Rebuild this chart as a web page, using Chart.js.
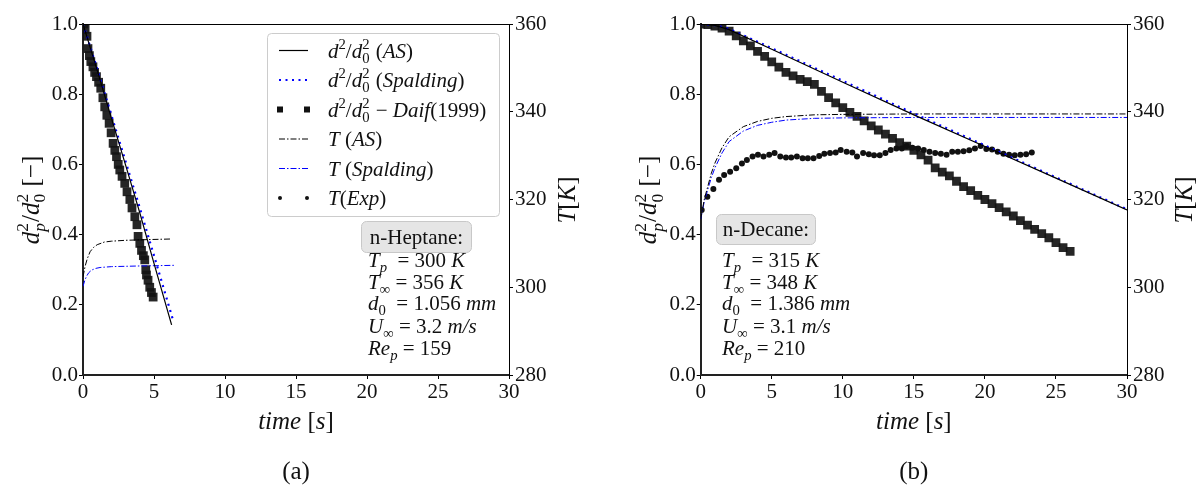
<!DOCTYPE html>
<html>
<head>
<meta charset="utf-8">
<script src="https://cdn.jsdelivr.net/npm/chart.js@4.4.1/dist/chart.umd.min.js"></script>
<style>
html, body { margin: 0; padding: 0; background: #fff; }
#wrap { position: relative; width: 1196px; height: 494px; }
canvas { position: absolute; top: 0; }
</style>
</head>
<body>
<div id="wrap">
  <canvas id="panelA" width="598" height="494" style="left:0"></canvas>
  <canvas id="panelB" width="598" height="494" style="left:598px"></canvas>
</div>
<script>
// Tick labels shared by both panels.
const timeTicks = [0, 5, 10, 15, 20, 25, 30];
const dTicks = [0, 0.2, 0.4, 0.6, 0.8, 1.0];
const tempTicks = [280, 300, 320, 340, 360];

// (a) n-Heptane, d2/d02 model lines
const hepAsTime = [0, 1, 2, 3, 4, 5, 6.24];
const hepAs = [1.0, 0.868, 0.732, 0.598, 0.462, 0.318, 0.143];
const hepSpTime = [0, 1, 2, 3, 4, 5, 6.35];
const hepSp = [1.0, 0.872, 0.740, 0.608, 0.476, 0.340, 0.155];

// (a) Daif (1999) measurements
const hepDaifTime = [0.05, 0.15, 0.28, 0.35, 0.45, 0.55, 0.7, 0.82, 0.95, 1.1, 1.25, 1.4, 1.53, 1.68, 1.84, 1.98,
  2.12, 2.24, 2.36, 2.48, 2.59, 2.75, 2.94, 3.1, 3.3, 3.45, 3.65, 3.8, 3.88, 4.0, 4.12, 4.25, 4.35, 4.42, 4.47,
  4.58, 4.7, 4.82, 4.94];
const hepDaif = [1.0, 0.985, 0.965, 0.93, 0.91, 0.893, 0.878, 0.862, 0.85, 0.834, 0.817, 0.79, 0.764, 0.74, 0.717,
  0.69, 0.66, 0.64, 0.622, 0.6, 0.584, 0.566, 0.546, 0.522, 0.5, 0.476, 0.451, 0.428, 0.395, 0.375, 0.355, 0.34,
  0.328, 0.3, 0.285, 0.27, 0.25, 0.235, 0.222];

// (a) droplet temperature [K]
const hepTasTime = [0, 0.15, 0.3, 0.5, 0.75, 1, 1.5, 2, 3, 4, 5, 6.24];
const hepTas = [302.4, 304.8, 306.5, 308.1, 309.1, 309.7, 310.3, 310.5, 310.7, 310.8, 310.9, 311.0];
const hepTspTime = [0, 0.12, 0.25, 0.4, 0.6, 0.9, 1.2, 2, 4, 6.45];
const hepTsp = [300.2, 301.5, 302.5, 303.3, 303.9, 304.3, 304.5, 304.7, 304.85, 305.0];

// (b) n-Decane, d2/d02 model lines
const decLineTime = [0, 1, 2, 5, 10, 15, 20, 25, 30];
const decAs = [1.0, 0.996, 0.984, 0.928, 0.834, 0.741, 0.651, 0.561, 0.47];
const decSp = [1.0, 0.997, 0.986, 0.931, 0.838, 0.745, 0.654, 0.563, 0.472];

// (b) Daif (1999) measurements
const decDaifTime = [0, 0.5, 1, 1.5, 2, 2.5, 3, 3.5, 4, 4.5, 5, 5.5, 6, 6.5, 7, 7.5, 8, 8.5, 9, 9.5, 10, 10.5,
  11, 11.5, 12, 12.5, 13, 13.5, 14, 14.5, 15, 15.5, 16, 16.5, 17, 17.5, 18, 18.5, 19, 19.5, 20, 20.5, 21, 21.5,
  22, 22.5, 23, 23.5, 24, 24.5, 25, 25.5, 26];
const decDaif = [1.0, 0.998, 0.994, 0.988, 0.98, 0.966, 0.952, 0.938, 0.922, 0.908, 0.892, 0.877, 0.862, 0.852,
  0.842, 0.836, 0.828, 0.808, 0.79, 0.775, 0.762, 0.748, 0.737, 0.724, 0.71, 0.698, 0.686, 0.674, 0.662, 0.652,
  0.64, 0.627, 0.612, 0.59, 0.578, 0.567, 0.552, 0.537, 0.525, 0.512, 0.5, 0.488, 0.477, 0.465, 0.453, 0.44,
  0.427, 0.415, 0.403, 0.391, 0.377, 0.363, 0.352];

// (b) droplet temperature [K]
const decTempTime = [0, 0.25, 0.5, 0.75, 1, 1.5, 2, 3, 4, 5, 6, 8, 10, 15, 20, 30];
const decTas = [315.5, 320, 323, 326, 328.3, 331.8, 334.3, 336.6, 337.8, 338.5, 338.9, 339.3, 339.4, 339.5, 339.5, 339.5];
const decTsp = [315.5, 319.5, 322.3, 325, 327.2, 330.6, 333.2, 335.6, 336.9, 337.6, 338.1, 338.5, 338.6, 338.7, 338.7, 338.7];
const decExpTime = [0.07, 0.47, 0.89, 1.29, 1.65, 2.07, 2.5, 2.9, 3.25, 3.65, 4.03, 4.42, 4.82, 5.2, 5.6, 6.0,
  6.37, 6.77, 7.17, 7.54, 7.94, 8.34, 8.7, 9.1, 9.5, 9.85, 10.27, 10.67, 11.0, 11.43, 11.83, 12.2, 12.6, 13.0,
  13.37, 13.77, 14.15, 14.5, 14.9, 15.3, 15.7, 16.1, 16.5, 16.9, 17.3, 17.7, 18.1, 18.5, 18.9, 19.3, 19.7, 20.1,
  20.5, 20.9, 21.3, 21.7, 22.1, 22.5, 22.9, 23.3];
const decExp = [317.6, 320.6, 322.4, 324.5, 325.6, 326.3, 327.1, 328.2, 329.0, 329.8, 330.2, 329.8, 330.2, 330.6,
  329.8, 329.6, 329.6, 329.8, 329.4, 329.4, 329.4, 329.9, 330.4, 330.6, 330.7, 331.3, 330.9, 330.7, 329.8, 330.6,
  330.3, 330.1, 330.1, 330.6, 331.3, 331.6, 331.6, 332.2, 331.8, 331.6, 331.3, 330.9, 330.6, 330.4, 330.2, 330.9,
  330.9, 331.0, 331.2, 331.6, 332.2, 331.5, 331.4, 330.9, 330.4, 330.2, 330.1, 330.2, 330.3, 330.7];

const SERIF = '"Liberation Serif", "DejaVu Serif", serif';
const BLUE = '#0000ff';
const DASHDOT = [6, 2, 1.5, 2];
const DOTTED = [2, 4.5];

function pts(ts, vs) {
  return ts.map((t, i) => ({x: t, y: vs[i]}));
}

function lineSet(label, ts, vs, color, width, dash, axis) {
  return {label: label, data: pts(ts, vs), showLine: true, pointRadius: 0, borderColor: color,
    borderWidth: width, borderDash: dash, yAxisID: axis, order: 1};
}

function squareSet(label, ts, vs) {
  return {label: label, data: pts(ts, vs), pointStyle: 'rect', pointRadius: 6.2, borderWidth: 0,
    backgroundColor: 'rgba(20,20,20,0.92)', yAxisID: 'y', order: 5};
}

// Small rich-text drawer: italic / roman runs with sub- and superscripts.
function setFont(ctx, italic, size) {
  ctx.font = (italic ? 'italic ' : '') + size + 'px ' + SERIF;
}

function segWidth(ctx, seg, size) {
  const [t, k] = seg;
  if (k === 'ss' || k === 'iss') {
    const [lo, hi] = t.split('|');
    setFont(ctx, k === 'iss', size * 0.7);
    const w1 = ctx.measureText(lo).width;
    setFont(ctx, false, size * 0.7);
    return Math.max(w1, ctx.measureText(hi).width) + 1;
  }
  const small = k === 'rb' || k === 'ib' || k === 'rp';
  setFont(ctx, k === 'i' || k === 'ib', small ? size * 0.7 : size);
  return ctx.measureText(t).width;
}

function drawRich(ctx, segs, x, y, size, align) {
  let total = 0;
  segs.forEach(s => total += segWidth(ctx, s, size));
  let cx = align === 'center' ? x - total / 2 : x;
  ctx.textAlign = 'left';
  ctx.textBaseline = 'alphabetic';
  for (const seg of segs) {
    const [t, k] = seg;
    const w = segWidth(ctx, seg, size);
    if (k === 'ss' || k === 'iss') {
      const [lo, hi] = t.split('|');
      setFont(ctx, k === 'iss', size * 0.7);
      ctx.fillText(lo, cx, y + size * 0.25);
      setFont(ctx, false, size * 0.7);
      ctx.fillText(hi, cx, y - size * 0.42);
    } else {
      const small = k === 'rb' || k === 'ib' || k === 'rp';
      setFont(ctx, k === 'i' || k === 'ib', small ? size * 0.7 : size);
      const dy = (k === 'rb' || k === 'ib') ? size * 0.25 : (k === 'rp' ? -size * 0.42 : 0);
      ctx.fillText(t, cx, y + dy);
    }
    cx += w;
  }
}

function drawRotated(ctx, segs, cx, cy, size) {
  ctx.save();
  ctx.translate(cx, cy);
  ctx.rotate(-Math.PI / 2);
  drawRich(ctx, segs, 0, size * 0.35, size, 'center');
  ctx.restore();
}

function roundBox(ctx, x, y, w, h, r, fill, stroke) {
  ctx.beginPath();
  ctx.roundRect(x, y, w, h, r);
  ctx.fillStyle = fill;
  ctx.fill();
  ctx.strokeStyle = stroke;
  ctx.lineWidth = 1;
  ctx.stroke();
}

const ratio = [['d', 'i'], ['2', 'rp'], ['/', 'r'], ['d', 'i'], ['0|2', 'ss']];
const legendRows = [
  {segs: ratio.concat([[' (', 'r'], ['AS', 'i'], [')', 'r']]), kind: 'line', color: '#000', width: 1.2, dash: []},
  {segs: ratio.concat([[' (', 'r'], ['Spalding', 'i'], [')', 'r']]), kind: 'line', color: BLUE, width: 2.2, dash: DOTTED},
  {segs: ratio.concat([[' \u2212 ', 'r'], ['Daif', 'i'], ['(1999)', 'r']]), kind: 'square'},
  {segs: [['T', 'i'], [' (', 'r'], ['AS', 'i'], [')', 'r']], kind: 'line', color: '#000', width: 1, dash: DASHDOT},
  {segs: [['T', 'i'], [' (', 'r'], ['Spalding', 'i'], [')', 'r']], kind: 'line', color: BLUE, width: 1, dash: DASHDOT},
  {segs: [['T', 'i'], ['(', 'r'], ['Exp', 'i'], [')', 'r']], kind: 'dot'}
];

function drawLegend(ctx) {
  roundBox(ctx, 267.5, 33.5, 232, 183, 4, 'rgba(255,255,255,0.85)', '#cccccc');
  legendRows.forEach((row, i) => {
    const yc = 50.5 + i * 29.5;
    ctx.save();
    ctx.fillStyle = '#111';
    if (row.kind === 'line') {
      ctx.strokeStyle = row.color;
      ctx.lineWidth = row.width;
      ctx.setLineDash(row.dash);
      ctx.beginPath();
      ctx.moveTo(279, yc);
      ctx.lineTo(308, yc);
      ctx.stroke();
    } else if (row.kind === 'square') {
      ctx.fillRect(277, yc - 3, 6, 6);
      ctx.fillRect(304, yc - 3, 6, 6);
    } else {
      ctx.beginPath(); ctx.arc(280, yc, 2, 0, 2 * Math.PI); ctx.fill();
      ctx.beginPath(); ctx.arc(307, yc, 2, 0, 2 * Math.PI); ctx.fill();
    }
    ctx.restore();
    ctx.fillStyle = '#111';
    drawRich(ctx, row.segs, 328, yc + 7, 21, 'left');
  });
}

function drawOverlay(chart, p) {
  const ctx = chart.ctx;
  const a = chart.chartArea;
  ctx.save();
  // top spine
  ctx.strokeStyle = '#000';
  ctx.lineWidth = 1;
  ctx.beginPath();
  ctx.moveTo(a.left, a.top + 0.5);
  ctx.lineTo(a.right, a.top + 0.5);
  ctx.stroke();

  ctx.fillStyle = '#111';
  const mid = (a.left + a.right) / 2;
  drawRich(ctx, [['time', 'i'], [' [', 'r'], ['s', 'i'], [']', 'r']], mid, 429, 25, 'center');
  drawRotated(ctx, [['d', 'i'], ['p|2', 'iss'], ['/', 'r'], ['d', 'i'], ['0|2', 'ss'], [' [\u2212]', 'r']], a.left - 53, 200, 25);
  drawRotated(ctx, [['T', 'i'], ['[', 'r'], ['K', 'i'], [']', 'r']], p.tTitleX, 200, 25);
  setFont(ctx, false, 25);
  ctx.textAlign = 'center';
  ctx.textBaseline = 'middle';
  ctx.fillText(p.caption, mid, 472);

  // annotation box
  const b = p.box;
  roundBox(ctx, b.x, b.y, b.w, b.h, 5, '#e5e5e5', '#c8c8c8');
  ctx.fillStyle = '#111';
  setFont(ctx, false, 21);
  ctx.textAlign = 'center';
  ctx.textBaseline = 'middle';
  ctx.fillText(p.fluid, b.x + b.w / 2, b.y + b.h / 2 + 1);
  const lineY = [260, 281.5, 303, 325.5, 347.5];
  p.notes.forEach((segs, i) => drawRich(ctx, segs, p.noteX, lineY[i] + 7, 21, 'left'));

  if (p.legend) drawLegend(ctx);
  ctx.restore();
}

const tickFont = {family: SERIF, size: 21};

function makePanel(id, p) {
  const setTicks = arr => axis => { axis.ticks = arr.map(v => ({value: v})); };
  return new Chart(document.getElementById(id), {
    type: 'scatter',
    data: {datasets: p.datasets},
    options: {
      responsive: false,
      animation: false,
      layout: {padding: {top: 24, left: 0, right: 0, bottom: 0}},
      plugins: {legend: {display: false}, tooltip: {enabled: false}},
      scales: {
        x: {
          type: 'linear', min: 0, max: 30,
          afterBuildTicks: setTicks(timeTicks),
          afterFit: s => { s.height = 119; },
          ticks: {font: tickFont, color: '#111', padding: 1, maxRotation: 0, autoSkip: false},
          grid: {drawOnChartArea: false, tickLength: 4, color: '#000'},
          border: {color: '#222', width: 2}
        },
        y: {
          position: 'left', min: 0, max: 1,
          afterBuildTicks: setTicks(dTicks),
          afterFit: s => { s.width = p.leftW; },
          ticks: {font: tickFont, color: '#111', padding: 1, callback: v => v.toFixed(1)},
          grid: {drawOnChartArea: false, tickLength: 4, color: '#000'},
          border: {color: '#222', width: 2}
        },
        yT: {
          position: 'right', min: 280, max: 360,
          afterBuildTicks: setTicks(tempTicks),
          afterFit: s => { s.width = p.rightW; },
          ticks: {font: tickFont, color: '#111', padding: 2},
          grid: {drawOnChartArea: false, tickLength: 4, color: '#000'},
          border: {color: '#000', width: 1}
        }
      }
    },
    plugins: [{id: 'overlay', afterDraw: chart => drawOverlay(chart, p)}]
  });
}

makePanel('panelA', {
  leftW: 83, rightW: 89, tTitleX: 566, caption: '(a)', fluid: 'n-Heptane:', legend: true,
  box: {x: 361.5, y: 221.5, w: 110, h: 31}, noteX: 368,
  notes: [
    [['T', 'i'], ['p', 'ib'], ['  = 300 ', 'r'], ['K', 'i']],
    [['T', 'i'], ['\u221e', 'rb'], [' = 356 ', 'r'], ['K', 'i']],
    [['d', 'i'], ['0', 'rb'], ['  = 1.056 ', 'r'], ['mm', 'i']],
    [['U', 'i'], ['\u221e', 'rb'], [' = 3.2 ', 'r'], ['m/s', 'i']],
    [['Re', 'i'], ['p', 'ib'], [' = 159', 'r']]
  ],
  datasets: [
    lineSet('d2/d02 (AS)', hepAsTime, hepAs, '#000', 1.2, [], 'y'),
    lineSet('d2/d02 (Spalding)', hepSpTime, hepSp, BLUE, 2.2, DOTTED, 'y'),
    squareSet('d2/d02 - Daif(1999)', hepDaifTime, hepDaif),
    lineSet('T (AS)', hepTasTime, hepTas, '#000', 1, DASHDOT, 'yT'),
    lineSet('T (Spalding)', hepTspTime, hepTsp, BLUE, 1, DASHDOT, 'yT')
  ]
});

makePanel('panelB', {
  leftW: 102.7, rightW: 69, tTitleX: 585, caption: '(b)', fluid: 'n-Decane:', legend: false,
  box: {x: 118.5, y: 214.5, w: 99, h: 30}, noteX: 124,
  notes: [
    [['T', 'i'], ['p', 'ib'], ['  = 315 ', 'r'], ['K', 'i']],
    [['T', 'i'], ['\u221e', 'rb'], [' = 348 ', 'r'], ['K', 'i']],
    [['d', 'i'], ['0', 'rb'], ['  = 1.386 ', 'r'], ['mm', 'i']],
    [['U', 'i'], ['\u221e', 'rb'], [' = 3.1 ', 'r'], ['m/s', 'i']],
    [['Re', 'i'], ['p', 'ib'], [' = 210', 'r']]
  ],
  datasets: [
    lineSet('d2/d02 (AS)', decLineTime, decAs, '#000', 1.2, [], 'y'),
    lineSet('d2/d02 (Spalding)', decLineTime, decSp, BLUE, 2.2, DOTTED, 'y'),
    squareSet('d2/d02 - Daif(1999)', decDaifTime, decDaif),
    lineSet('T (AS)', decTempTime, decTas, '#000', 1, DASHDOT, 'yT'),
    lineSet('T (Spalding)', decTempTime, decTsp, BLUE, 1, DASHDOT, 'yT'),
    {label: 'T(Exp)', data: pts(decExpTime, decExp), pointRadius: 3, borderWidth: 0,
      backgroundColor: '#111', yAxisID: 'yT', order: 2}
  ]
});
</script>
</body>
</html>
